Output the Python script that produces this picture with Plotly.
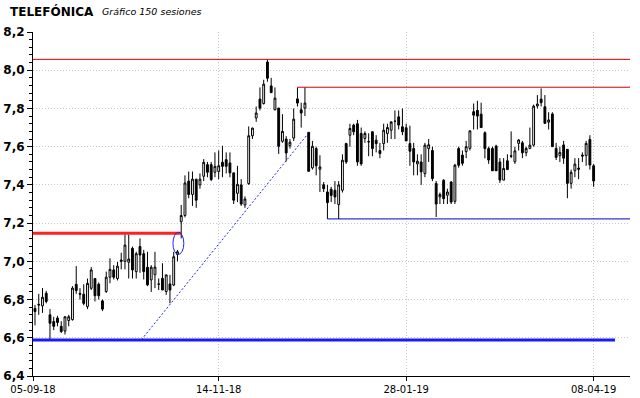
import plotly.graph_objects as go

# ---- data ----
opens = [6.753, 6.775, 6.767, 6.833, 6.720, 6.685, 6.703, 6.660, 6.635, 6.690,
         6.695, 6.880, 6.832, 6.828, 6.763, 6.859, 6.910, 6.880, 6.793, 6.842,
         6.917, 6.955, 6.910, 7.007, 7.000, 6.995, 7.068, 6.946, 7.077, 7.040,
         6.969, 6.903, 6.930, 6.882, 6.911, 6.842, 6.882, 6.876, 7.036, 7.207,
         7.240, 7.420, 7.350, 7.430, 7.400, 7.445, 7.506, 7.506, 7.466, 7.470,
         7.518, 7.532, 7.515, 7.463, 7.356, 7.400, 7.295, 7.407, 7.657, 7.750,
         7.849, 7.826, 8.043, 7.918, 7.793, 7.802, 7.628, 7.640, 7.605, 7.645,
         7.850, 7.793, 7.802, 7.675, 7.489, 7.590, 7.482, 7.401, 7.363, 7.377,
         7.372, 7.297, 7.372, 7.616, 7.660, 7.713, 7.720, 7.669, 7.643, 7.627,
         7.678, 7.634, 7.580, 7.616, 7.669, 7.686, 7.733, 7.756, 7.704, 7.699,
         7.616, 7.590, 7.510, 7.520, 7.459, 7.590, 7.580, 7.407, 7.337, 7.424,
         7.346, 7.415, 7.314, 7.590, 7.556, 7.574, 7.591, 7.783, 7.790, 7.770,
         7.673, 7.590, 7.590, 7.603, 7.520, 7.425, 7.526, 7.552, 7.521, 7.617,
         7.620, 7.568, 7.590, 7.608, 7.813, 7.849, 7.809, 7.728, 7.771, 7.591,
         7.553, 7.609, 7.586, 7.408, 7.474, 7.488, 7.556, 7.553, 7.638, 7.500]
highs = [6.772, 6.830, 6.860, 6.845, 6.750, 6.710, 6.715, 6.687, 6.713, 6.720,
         6.870, 6.975, 6.860, 6.880, 6.910, 6.970, 6.910, 6.890, 6.800, 6.946,
         7.016, 6.980, 6.997, 7.045, 7.140, 7.140, 7.077, 7.050, 7.120, 7.060,
         7.050, 6.980, 7.050, 6.910, 6.990, 6.930, 6.929, 7.050, 7.060, 7.295,
         7.450, 7.470, 7.470, 7.430, 7.460, 7.535, 7.520, 7.520, 7.570, 7.580,
         7.605, 7.570, 7.570, 7.463, 7.500, 7.430, 7.340, 7.706, 7.700, 7.810,
         7.910, 7.950, 8.057, 7.960, 7.910, 7.802, 7.770, 7.655, 7.640, 7.800,
         7.910, 7.830, 7.910, 7.675, 7.630, 7.600, 7.555, 7.415, 7.400, 7.390,
         7.420, 7.420, 7.560, 7.620, 7.720, 7.720, 7.740, 7.700, 7.680, 7.670,
         7.680, 7.660, 7.620, 7.720, 7.720, 7.720, 7.790, 7.790, 7.800, 7.720,
         7.710, 7.620, 7.560, 7.560, 7.620, 7.640, 7.600, 7.420, 7.360, 7.430,
         7.380, 7.420, 7.510, 7.600, 7.580, 7.630, 7.683, 7.826, 7.840, 7.830,
         7.680, 7.600, 7.600, 7.610, 7.540, 7.540, 7.560, 7.680, 7.600, 7.640,
         7.630, 7.600, 7.700, 7.820, 7.870, 7.905, 7.870, 7.780, 7.780, 7.620,
         7.600, 7.630, 7.586, 7.480, 7.540, 7.540, 7.570, 7.630, 7.660, 7.510]
lows = [6.665, 6.720, 6.730, 6.780, 6.593, 6.640, 6.660, 6.625, 6.617, 6.660,
        6.690, 6.830, 6.800, 6.770, 6.750, 6.850, 6.790, 6.800, 6.740, 6.835,
        6.885, 6.905, 6.900, 6.958, 6.958, 6.910, 6.910, 6.910, 6.940, 6.905,
        6.870, 6.840, 6.860, 6.850, 6.850, 6.825, 6.780, 6.870, 7.000, 7.120,
        7.230, 7.330, 7.290, 7.280, 7.380, 7.420, 7.440, 7.420, 7.440, 7.430,
        7.440, 7.460, 7.440, 7.300, 7.310, 7.290, 7.280, 7.400, 7.640, 7.730,
        7.790, 7.820, 7.940, 7.880, 7.790, 7.562, 7.620, 7.523, 7.590, 7.630,
        7.810, 7.700, 7.760, 7.471, 7.480, 7.450, 7.363, 7.363, 7.222, 7.310,
        7.300, 7.222, 7.360, 7.510, 7.600, 7.660, 7.500, 7.500, 7.620, 7.550,
        7.550, 7.570, 7.540, 7.580, 7.620, 7.640, 7.640, 7.690, 7.660, 7.630,
        7.500, 7.450, 7.450, 7.400, 7.440, 7.520, 7.420, 7.232, 7.300, 7.300,
        7.300, 7.300, 7.300, 7.490, 7.500, 7.540, 7.580, 7.690, 7.690, 7.700,
        7.539, 7.510, 7.474, 7.474, 7.410, 7.425, 7.480, 7.540, 7.510, 7.580,
        7.540, 7.550, 7.590, 7.600, 7.800, 7.810, 7.720, 7.690, 7.600, 7.530,
        7.520, 7.510, 7.330, 7.380, 7.440, 7.430, 7.520, 7.500, 7.480, 7.390]
closes = [6.737, 6.772, 6.812, 6.790, 6.676, 6.660, 6.680, 6.633, 6.710, 6.710,
          6.860, 6.847, 6.828, 6.780, 6.885, 6.955, 6.820, 6.820, 6.750, 6.917,
          6.958, 6.917, 6.975, 7.000, 7.085, 7.012, 6.955, 7.040, 7.033, 6.946,
          6.877, 6.969, 6.970, 6.880, 6.850, 6.929, 6.850, 7.024, 7.050, 7.240,
          7.410, 7.350, 7.430, 7.320, 7.430, 7.518, 7.466, 7.428, 7.497, 7.500,
          7.497, 7.497, 7.463, 7.320, 7.403, 7.300, 7.326, 7.657, 7.697, 7.776,
          7.802, 7.927, 7.958, 7.883, 7.854, 7.602, 7.680, 7.567, 7.623, 7.744,
          7.828, 7.776, 7.828, 7.471, 7.602, 7.500, 7.494, 7.380, 7.307, 7.345,
          7.337, 7.400, 7.529, 7.520, 7.695, 7.678, 7.520, 7.510, 7.669, 7.625,
          7.590, 7.616, 7.564, 7.686, 7.700, 7.730, 7.733, 7.713, 7.678, 7.630,
          7.576, 7.520, 7.524, 7.468, 7.608, 7.610, 7.433, 7.300, 7.350, 7.328,
          7.363, 7.310, 7.503, 7.503, 7.513, 7.600, 7.683, 7.765, 7.760, 7.700,
          7.590, 7.530, 7.474, 7.474, 7.425, 7.486, 7.480, 7.550, 7.578, 7.635,
          7.568, 7.591, 7.608, 7.812, 7.823, 7.830, 7.722, 7.740, 7.600, 7.544,
          7.570, 7.540, 7.408, 7.466, 7.509, 7.482, 7.551, 7.617, 7.504, 7.420]

tick_sessions = [0, 49, 99, 149]
tick_labels = ["05-09-18", "14-11-18", "28-01-19", "08-04-19"]

# horizontal levels: (value, first session)
top_resistance = [8.057, 0]
second_resistance = [7.911, 70]
support_level = [7.222, 78]
breakout_level = [7.147, 0, 39]
long_support = [6.588, 0, 154.7]
trend_start = [28.4, 6.59]
trend_end = [72.5, 7.66]
marked_session = [38.25, 7.094]

n = len(closes)
xs = list(range(n))
x_lo, x_hi = -0.53, 158.7

fig = go.Figure()
fig.add_trace(go.Candlestick(
    x=xs, open=opens, high=highs, low=lows, close=closes,
    increasing=dict(line=dict(color="black", width=1), fillcolor="white"),
    decreasing=dict(line=dict(color="black", width=1), fillcolor="black"),
    whiskerwidth=0, showlegend=False, hoverinfo="skip",
))

shapes = []
def hline(y, x0, x1, color, width, dash="solid"):
    shapes.append(dict(type="line", xref="x", yref="y", x0=x0, x1=x1, y0=y, y1=y,
                       line=dict(color=color, width=width, dash=dash), layer="above"))

hline(top_resistance[0], x_lo, x_hi, "#cc0000", 1)
hline(second_resistance[0], second_resistance[1], x_hi, "#cc0000", 1)
hline(support_level[0], support_level[1], x_hi, "#0000c8", 1)
hline(breakout_level[0], x_lo, breakout_level[2], "#ff2020", 3)
hline(long_support[0], x_lo, long_support[2], "#1a1aff", 3)
shapes.append(dict(type="line", xref="x", yref="y",
                   x0=trend_start[0], y0=trend_start[1], x1=trend_end[0], y1=trend_end[1],
                   line=dict(color="#2020ff", width=1, dash="2px,2px"), layer="above"))
shapes.append(dict(type="circle", xref="x", yref="y",
                   x0=marked_session[0] - 1.45, x1=marked_session[0] + 1.45,
                   y0=marked_session[1] - 0.058, y1=marked_session[1] + 0.058,
                   line=dict(color="#2020ff", width=1), layer="above"))

fig.update_layout(
    width=640, height=398,
    margin=dict(l=33, r=10, t=32, b=22, autoexpand=False),
    paper_bgcolor="white", plot_bgcolor="white",
    shapes=shapes,
    separators=",.",
    font=dict(family="DejaVu Sans", color="black"),
    annotations=[
        dict(text="<b>TELEFÓNICA</b>", xref="paper", yref="paper",
             x=-25/597, y=1 + 20/344, xanchor="left", yanchor="middle",
             showarrow=False, font=dict(family="DejaVu Sans", size=12, color="black")),
        dict(text="<i>Gráfico 150 sesiones</i>", xref="paper", yref="paper",
             x=(100-33)/597, y=1 + 20/344, xanchor="left", yanchor="middle",
             showarrow=False, font=dict(family="DejaVu Sans", size=9.5, color="black")),
    ],
)
fig.update_xaxes(
    range=[x_lo, x_hi], rangeslider=dict(visible=False), automargin=False,
    tickmode="array", tickvals=[x_lo] + tick_sessions[1:], ticktext=tick_labels,
    showgrid=True, gridcolor="#c4c4dc", griddash="1px,2px", gridwidth=1,
    showline=True, linecolor="black", linewidth=1,
    ticks="outside", ticklen=4, tickcolor="black",
    tickfont=dict(family="DejaVu Sans", size=10, color="black"),
    zeroline=False, fixedrange=True,
)
fig.update_yaxes(
    range=[6.4, 8.2], tickmode="linear", tick0=6.4, dtick=0.2, automargin=False,
    tickformat=".1f",
    showgrid=True, gridcolor="#c4c4dc", griddash="1px,2px", gridwidth=1,
    showline=True, linecolor="black", linewidth=1,
    ticks="outside", ticklen=5, tickcolor="black",
    minor=dict(dtick=0.04, ticks="outside", ticklen=3, tickcolor="black", showgrid=False),
    tickfont=dict(family="DejaVu Sans", size=12, color="black", weight="bold"),
    zeroline=False, fixedrange=True,
)
fig.write_html(
    "out.html",
    config={"displayModeBar": False},
    post_script="document.body.style.margin='0';document.body.style.overflow='hidden';",
)
